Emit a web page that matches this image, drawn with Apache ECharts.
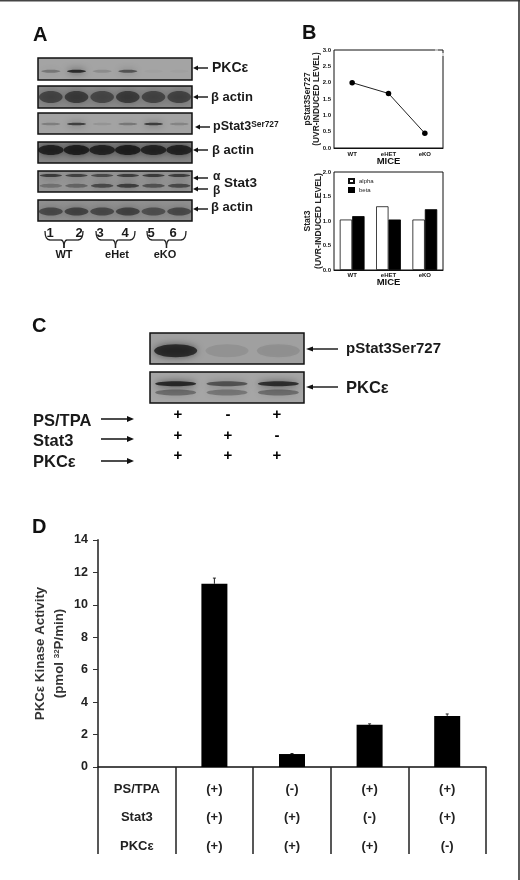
<!DOCTYPE html>
<html>
<head>
<meta charset="utf-8">
<style>html,body{margin:0;padding:0;background:#fff}#c{width:520px;height:880px}</style>
<script src="https://cdn.jsdelivr.net/npm/echarts@6/dist/echarts.min.js"></script>
</head>
<body>
<div id="c"></div>
<script>
// ---- Data ----
const miceLine = ['WT', 'eHET', 'eKO'];
const pStat3Level = [2.0, 1.67, 0.45];
const stat3Alpha = [1.03, 1.3, 1.03];
const stat3Beta = [1.1, 1.03, 1.24];
const kinaseCats = ['PS/TPA\nStat3\nPKCε', '(+)\n(+)\n(+)', '(-)\n(+)\n(+)', '(+)\n(-)\n(+)', '(+)\n(+)\n(-)'];
const kinaseValues = [null, 11.3, 0.8, 2.6, 3.15];
const kinaseErrors = [null, 0.35, 0.03, 0.06, 0.12];
// blot band strengths per lane
const pkcBand = [0.35, 0.95, 0.18, 0.62, 0.03, 0.03];
const actinBand1 = [0.6, 0.68, 0.58, 0.68, 0.6, 0.62];
const pStatBand = [0.28, 0.78, 0.12, 0.34, 0.8, 0.24];
const actinBand2 = [0.92, 0.96, 0.9, 0.96, 0.9, 0.92];
const stat3AlphaBand = [0.78, 0.72, 0.65, 0.75, 0.78, 0.75];
const stat3BetaBand = [0.32, 0.42, 0.65, 0.75, 0.58, 0.65];
const actinBand3 = [0.6, 0.65, 0.6, 0.65, 0.55, 0.6];
const cStatBand = [0.88, 0.1, 0.13];
const cPkcUpper = [0.95, 0.62, 0.9];
const cPkcLower = [0.42, 0.35, 0.42];
const conditions = ['PS/TPA', 'Stat3', 'PKCε'];
const condPSTPA = ['+', '-', '+'];
const condStat3 = ['+', '+', '-'];
const condPKC = ['+', '+', '+'];

// ---- Layout ----
const FONT = '"Liberation Sans", Arial, sans-serif';
const A_X = 38, A_W = 154, C_X = 150, C_W = 154;
const blots = [
  {x:A_X,y:58,w:A_W,h:22,bg:'#a4a4a4',rows:[{d:pkcBand,f:0.6,t:3,wf:0.74}]},
  {x:A_X,y:86,w:A_W,h:22,bg:'#8a8a8a',rows:[{d:actinBand1,f:0.5,t:12,wf:0.92}]},
  {x:A_X,y:113,w:A_W,h:21,bg:'#a3a3a3',rows:[{d:pStatBand,f:0.52,t:2.5,wf:0.74}]},
  {x:A_X,y:142,w:A_W,h:21,bg:'#858585',rows:[{d:actinBand2,f:0.38,t:10,wf:1.0}]},
  {x:A_X,y:171,w:A_W,h:21,bg:'#979797',rows:[{d:stat3AlphaBand,f:0.22,t:3,wf:0.87},{d:stat3BetaBand,f:0.7,t:4,wf:0.87}]},
  {x:A_X,y:200,w:A_W,h:21,bg:'#909090',rows:[{d:actinBand3,f:0.55,t:8,wf:0.93}]},
  {x:C_X,y:333,w:C_W,h:31,bg:'#a0a0a0',rows:[{d:cStatBand,f:0.57,t:13,wf:0.84}]},
  {x:C_X,y:372,w:C_W,h:31,bg:'#a6a6a6',rows:[{d:cPkcUpper,f:0.38,t:5,wf:0.8},{d:cPkcLower,f:0.66,t:6,wf:0.8}]}
];

const grid = [], xAxis = [], yAxis = [], series = [];
function addGrid(g, x, y){ grid.push(g); const i = grid.length-1; x.gridIndex = i; y.gridIndex = i; xAxis.push(x); yAxis.push(y); return i; }

blots.forEach(b => {
  const lanes = b.rows[0].d.map((_, i) => i);
  const i = addGrid(
    {left:b.x, top:b.y, width:b.w, height:b.h, show:true, backgroundColor:b.bg, borderColor:'#111', borderWidth:1.5},
    {type:'category', data:lanes, show:false},
    {type:'value', min:0, max:1, inverse:true, show:false}
  );
  b.rows.forEach(p => {
    series.push({
      type:'custom', xAxisIndex:i, yAxisIndex:i, clip:true, silent:true, z:3,
      data:p.d.map((v, k) => [k, p.f, v]),
      renderItem(params, api){
        const c = api.coord([api.value(0), api.value(1)]);
        const bw = api.size([1, 0])[0];
        const v = api.value(2);
        const col = 'rgba(15,15,15,' + (v*0.82) + ')';
        const rw = bw*p.wf, rh = p.t;
        return {type:'ellipse', shape:{cx:c[0], cy:c[1], rx:rw/2, ry:rh/2},
          style:{fill:col, shadowColor:col, shadowBlur:7}};
      }
    });
  });
});

// Panel B, line
const smallLabel = {fontFamily:FONT, fontWeight:'bold', fontSize:6, color:'#111'};
const iB1 = addGrid(
  {left:334, top:50, width:109, height:98, show:true, borderColor:'#111', borderWidth:1},
  {type:'category', data:miceLine, name:'MICE', nameLocation:'middle', nameGap:8, nameMoveOverlap:false,
   nameTextStyle:{fontFamily:FONT, fontWeight:'bold', fontSize:9.5, color:'#111'},
   axisLine:{lineStyle:{color:'#111', width:1}}, axisTick:{show:false},
   axisLabel:{...smallLabel, margin:3}},
  {type:'value', min:0, max:3, interval:0.5, splitLine:{show:false},
   name:'{a|pStat3Ser727}\n{a|(UVR-INDUCED LEVEL)}', nameLocation:'middle', nameRotate:90, nameGap:12.5, nameMoveOverlap:false,
   nameTextStyle:{rich:{a:{fontFamily:FONT, fontWeight:'bold', fontSize:8.4, color:'#222', lineHeight:9}}},
   axisLine:{lineStyle:{color:'#111', width:1}}, axisTick:{length:2, lineStyle:{color:'#111'}},
   axisLabel:{...smallLabel, margin:3, formatter:v=>v.toFixed(1)}}
);
series.push({type:'line', xAxisIndex:iB1, yAxisIndex:iB1, data:pStat3Level, symbol:'circle', symbolSize:5.5,
  itemStyle:{color:'#000'}, lineStyle:{color:'#222', width:1}, z:4});

// Panel B, bars
const iB2 = addGrid(
  {left:334, top:172, width:109, height:98, show:true, borderColor:'#111', borderWidth:1},
  {type:'category', data:miceLine, name:'MICE', nameLocation:'middle', nameGap:7, nameMoveOverlap:false,
   nameTextStyle:{fontFamily:FONT, fontWeight:'bold', fontSize:9.5, color:'#111'},
   axisLine:{lineStyle:{color:'#111', width:1}}, axisTick:{show:false},
   axisLabel:{...smallLabel, margin:2}},
  {type:'value', min:0, max:2, interval:0.5, splitLine:{show:false},
   name:'{a|Stat3}\n{a|(UVR-INDUCED LEVEL)}', nameLocation:'middle', nameRotate:90, nameGap:9.5, nameMoveOverlap:false,
   nameTextStyle:{rich:{a:{fontFamily:FONT, fontWeight:'bold', fontSize:8.6, color:'#222', lineHeight:11}}},
   axisLine:{lineStyle:{color:'#111', width:1}}, axisTick:{length:2, lineStyle:{color:'#111'}},
   axisLabel:{...smallLabel, margin:3, formatter:v=>v.toFixed(1)}}
);
series.push({name:'alpha', type:'bar', xAxisIndex:iB2, yAxisIndex:iB2, data:stat3Alpha, barWidth:12.4, barGap:'0%',
  itemStyle:{color:'#fff', borderColor:'#111', borderWidth:0.8}});
series.push({name:'beta', type:'bar', xAxisIndex:iB2, yAxisIndex:iB2, data:stat3Beta, barWidth:12.4, barGap:'0%',
  itemStyle:{color:'#000', borderColor:'#000', borderWidth:0.8}});

// Panel D
const iD = addGrid(
  {left:98, top:540, width:388, height:227},
  {type:'category', data:kinaseCats,
   axisLine:{lineStyle:{color:'#111', width:1.5}},
   axisTick:{show:true, inside:false, length:87, alignWithLabel:false, lineStyle:{color:'#222', width:1.5}},
   axisLabel:{interval:0, margin:8, fontFamily:FONT, fontWeight:'bold', fontSize:13, color:'#222', lineHeight:28.5}},
  {type:'value', min:0, max:14, interval:2, splitLine:{show:false},
   name:'{a|PKCε Kinase Activity}\n{a|(pmol }{s|32}{a|P/min)}', nameLocation:'middle', nameRotate:90, nameGap:29.5, nameMoveOverlap:false,
   nameTextStyle:{rich:{
     a:{fontFamily:FONT, fontWeight:'bold', fontSize:13.3, color:'#333', lineHeight:19},
     s:{fontFamily:FONT, fontWeight:'bold', fontSize:8, color:'#333', lineHeight:19, padding:[0,0,5,0]}}},
   axisLine:{show:true, lineStyle:{color:'#555', width:2}},
   axisTick:{show:true, length:5, lineStyle:{color:'#333', width:1}},
   axisLabel:{margin:10, fontFamily:FONT, fontWeight:'bold', fontSize:12.5, color:'#222'}}
);
series.push({type:'bar', xAxisIndex:iD, yAxisIndex:iD, data:kinaseValues, barWidth:26, itemStyle:{color:'#000'}, z:3});
series.push({type:'custom', xAxisIndex:iD, yAxisIndex:iD, z:4, silent:true,
  data:kinaseValues.map((v, i) => v==null ? null : [i, v, kinaseErrors[i]]).filter(Boolean),
  renderItem(params, api){
    const x = api.value(0), v = api.value(1), e = api.value(2);
    const a = api.coord([x, v]), b = api.coord([x, v + e]);
    const st = {stroke:'#222', lineWidth:1, fill:null};
    return {type:'group', children:[
      {type:'line', shape:{x1:a[0], y1:a[1], x2:b[0], y2:b[1]}, style:st},
      {type:'line', shape:{x1:a[0]-1.5, y1:b[1], x2:a[0]+1.5, y2:b[1]}, style:st}
    ]};
  }
});

// ---- Annotations ----
const g = [];
function txt(x, y, text, size, opt){
  g.push({type:'text', x, y, z:10, style:Object.assign({text, fontFamily:FONT, fontWeight:'bold', fontSize:size,
    fill:'#1a1a1a', textAlign:'left', textVerticalAlign:'middle'}, opt||{})});
}
function rule(x1, y1, x2, y2, w, color){
  g.push({type:'line', z:10, shape:{x1, y1, x2, y2}, style:{stroke:color||'#111', lineWidth:w||1.4}});
}
function arrowL(x1, x2, y, head){ // head at x1, pointing left
  const h = head||5;
  rule(x1+h-1, y, x2, y, 1.4);
  g.push({type:'polygon', z:10, shape:{points:[[x1,y],[x1+h,y-2.6],[x1+h,y+2.6]]}, style:{fill:'#111'}});
}
function arrowR(x1, x2, y){ // head at x2, pointing right
  rule(x1, y, x2-5, y, 1.5);
  g.push({type:'polygon', z:10, shape:{points:[[x2,y],[x2-7,y-3],[x2-7,y+3]]}, style:{fill:'#111'}});
}
function curve(x1, y1, cx, cy, x2, y2){
  g.push({type:'bezierCurve', z:10, shape:{x1, y1, cpx1:cx, cpy1:cy, x2, y2}, style:{stroke:'#222', lineWidth:1.3, fill:null}});
}
function brace(x1, x2, yTop){
  const m = (x1+x2)/2, y2 = yTop+9, y3 = yTop+17;
  curve(x1, yTop, x1, y2, x1+5, y2);
  rule(x1+5, y2, m-3, y2, 1.3, '#222');
  curve(m-3, y2, m, y2, m, y3);
  curve(m+3, y2, m, y2, m, y3);
  rule(m+3, y2, x2-5, y2, 1.3, '#222');
  curve(x2, yTop, x2, y2, x2-5, y2);
}

// frame of the page
rule(0, 0.7, 520, 0.7, 1.4, '#444');
rule(519, 0, 519, 880, 1.6, '#333');

// small breaks in the top-right corner of the line plot's frame
rule(435, 50, 438, 50, 1.4, '#ddd');
rule(443, 53, 443, 56, 1.4, '#fff');

// panel letters
txt(33, 35, 'A', 20, {fill:'#111'});
txt(302, 33, 'B', 20, {fill:'#111'});
txt(32, 326, 'C', 20, {fill:'#111'});
txt(32, 527, 'D', 20, {fill:'#111'});

// panel A labels
arrowL(193, 208, 68); txt(212, 68, 'PKCε', 14);
arrowL(193, 208, 97); txt(211, 97, 'β actin', 13);
arrowL(195, 210, 127);
g.push({type:'text', x:213, y:127, z:10, style:{
  text:'{a|pStat3}{s|Ser727}', textVerticalAlign:'middle', textAlign:'left',
  rich:{a:{fontFamily:FONT, fontWeight:'bold', fontSize:12.5, fill:'#1a1a1a', verticalAlign:'bottom'},
        s:{fontFamily:FONT, fontWeight:'bold', fontSize:8.4, fill:'#1a1a1a', verticalAlign:'top'}}}});
arrowL(193, 208, 150); txt(212, 150, 'β actin', 13);
arrowL(193, 208, 178); txt(213, 177, 'α', 12);
arrowL(193, 208, 189); txt(213, 191, 'β', 12);
txt(224, 183, 'Stat3', 13.5);
arrowL(193, 208, 209); txt(211, 207, 'β actin', 13);

[['1',50],['2',79],['3',100],['4',125],['5',151],['6',173]].forEach(([t, x]) => txt(x, 233, t, 13, {textAlign:'center'}));
brace(45, 83, 231); brace(96, 135, 231); brace(147, 186, 231);
[['WT',64],['eHet',117],['eKO',165]].forEach(([t, x]) => txt(x, 255, t, 11, {textAlign:'center'}));

// panel C labels
arrowL(306, 338, 349, 7); txt(346, 349, 'pStat3Ser727', 15);
arrowL(306, 338, 387, 7); txt(346, 388, 'PKCε', 16.5);
const condRowsY = [421, 441, 462], arrowY = [419, 439, 461], signY = [415, 436, 456], signX = [178, 228, 277];
conditions.forEach((t, i) => { txt(33, condRowsY[i], t, 16.5); arrowR(101, 134, arrowY[i]); });
[condPSTPA, condStat3, condPKC].forEach((row, r) => row.forEach((s, c) =>
  txt(signX[c], signY[r], s, 15, {textAlign:'center', fontWeight:'bold', fill:'#000'})));

const option = {
  animation:false, backgroundColor:'#fff',
  legend:{data:['alpha','beta'], icon:'rect', orient:'vertical', left:348, top:178, padding:0, itemWidth:5, itemHeight:4, itemGap:3,
    selectedMode:false, textStyle:{fontFamily:FONT, fontSize:6, color:'#222'}},
  grid, xAxis, yAxis, series, graphic:{elements:g}
};
const chart = echarts.init(document.getElementById('c'), null, {width:520, height:880});
chart.setOption(option);
</script>
</body>
</html>
